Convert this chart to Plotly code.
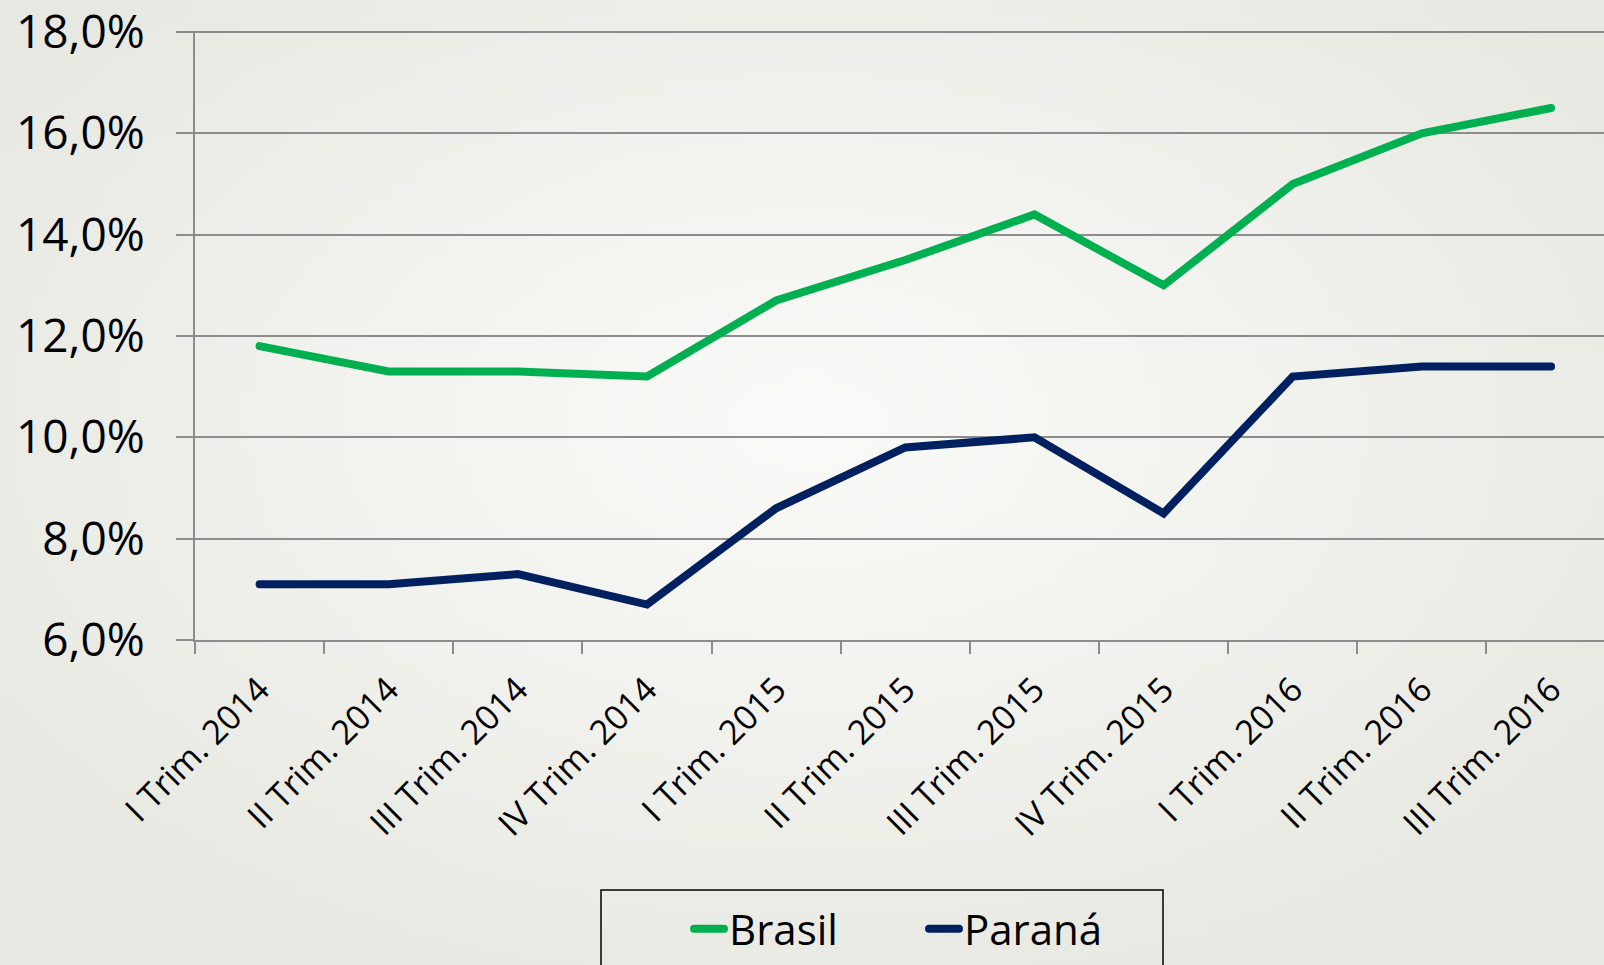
import base64, struct, zlib
import plotly.graph_objects as go

categories = ["I Trim. 2014", "II Trim. 2014", "III Trim. 2014", "IV Trim. 2014",
              "I Trim. 2015", "II Trim. 2015", "III Trim. 2015", "IV Trim. 2015",
              "I Trim. 2016", "II Trim. 2016", "III Trim. 2016"]
brasil = [11.8, 11.3, 11.3, 11.2, 12.7, 13.5, 14.4, 13.0, 15.0, 16.0, 16.5]
parana = [7.1, 7.1, 7.3, 6.7, 8.6, 9.8, 10.0, 8.5, 11.2, 11.4, 11.4]
y_tick_values = [6, 8, 10, 12, 14, 16, 18]
y_tick_labels = ["6,0%", "8,0%", "10,0%", "12,0%", "14,0%", "16,0%", "18,0%"]

FONT = "Open Sans"
BG = "#E9E9E3"
GRID = "#8C8C8C"

W_FIG, H_FIG = 1604, 965
L, R, T, B = 195, 0, 31, 325
PW, PH = W_FIG - L - R, H_FIG - T - B


def radial_png(w, h, c_in=(250, 250, 248), c_out=(232, 232, 226)):
    cx, cy = 0.5 * w, 0.42 * h
    rows = b""
    for j in range(h):
        row = bytearray([0])
        for i in range(w):
            d = (((i - cx) / (0.62 * w)) ** 2 + ((j - cy) / (0.62 * h)) ** 2) ** 0.5
            d = min(d, 1.0)
            row += bytes(int(round(a + (b - a) * d)) for a, b in zip(c_in, c_out))
        rows += bytes(row)

    def chunk(tag, data):
        return struct.pack(">I", len(data)) + tag + data + struct.pack(">I", zlib.crc32(tag + data) & 0xffffffff)

    png = b"\x89PNG\r\n\x1a\n" + chunk(b"IHDR", struct.pack(">IIBBBBB", w, h, 8, 2, 0, 0, 0))
    png += chunk(b"IDAT", zlib.compress(rows, 9)) + chunk(b"IEND", b"")
    return "data:image/png;base64," + base64.b64encode(png).decode()


fig = go.Figure()
fig.add_trace(go.Scatter(x=categories, y=brasil, mode="lines", name="Brasil",
                         line=dict(color="#00B050", width=8)))
fig.add_trace(go.Scatter(x=categories, y=parana, mode="lines", name="Paraná",
                         line=dict(color="#002060", width=8)))

fig.update_layout(
    width=W_FIG, height=H_FIG,
    margin=dict(l=L, r=R, t=T, b=B),
    paper_bgcolor=BG, plot_bgcolor="rgba(0,0,0,0)",
    font=dict(family=FONT, color="black"),
    showlegend=True,
    legend=dict(orientation="h", x=(689 - L) / PW, xanchor="left",
                y=-(929 - 640) / PH, yanchor="middle",
                font=dict(size=42, family=FONT, color="black"),
                entrywidth=190, entrywidthmode="pixels",
                bgcolor="rgba(0,0,0,0)", itemwidth=30),
    shapes=[dict(type="rect", xref="paper", yref="paper",
                 x0=(601 - L) / PW, x1=(1163 - L) / PW,
                 y0=-(1000 - 640) / PH, y1=-(890 - 640) / PH,
                 line=dict(color="black", width=1.5), fillcolor="rgba(0,0,0,0)", layer="below")],
    images=[dict(source=radial_png(160, 100), xref="paper", yref="paper",
                 x=-L / PW, y=1 + T / PH, sizex=W_FIG / PW, sizey=(H_FIG + 30) / PH,
                 xanchor="left", yanchor="top", sizing="stretch", layer="below")],
)

fig.update_xaxes(
    type="category", range=[-0.5, 10.41],
    showline=True, linecolor=GRID, linewidth=2,
    showgrid=False, ticks="outside", tickson="boundaries", ticklen=12,
    tickcolor=GRID, tickwidth=2,
    tickangle=-45, ticklabelstandoff=14,
    tickfont=dict(size=34, family=FONT, color="black"),
)
fig.update_yaxes(
    range=[6, 18.02], tickmode="array", tickvals=y_tick_values, ticktext=y_tick_labels,
    showline=True, linecolor=GRID, linewidth=2,
    showgrid=True, gridcolor=GRID, gridwidth=2, zeroline=False,
    ticks="outside", ticklen=17, tickcolor=GRID, tickwidth=2,
    ticklabelstandoff=22, ticklabeloverflow="allow",
    tickfont=dict(size=46, family=FONT, color="black"),
)

fig.write_html("out.html", config={"displayModeBar": False},
               post_script="document.body.style.margin='0';document.body.style.overflow='hidden';"
                           "document.body.style.background='#E9E9E3';"
                           "var st=document.createElement('style');"
                           "st.textContent='.scatterlayer .js-line, .legend .js-line{stroke-linecap:round;}';"
                           "document.head.appendChild(st);")
